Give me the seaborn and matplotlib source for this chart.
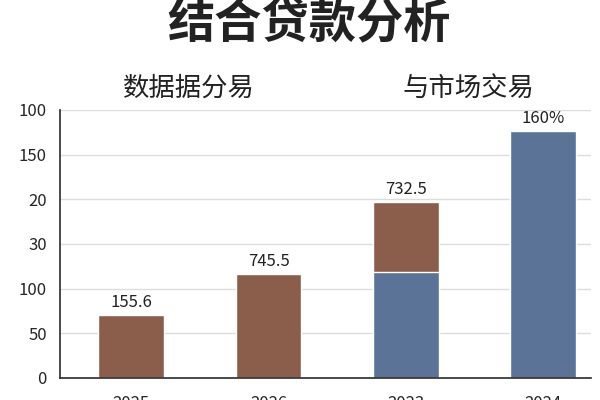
import matplotlib
matplotlib.use("Agg")
import matplotlib.pyplot as plt
import seaborn as sns
import pandas as pd

years = ["2025", "2026", "2023", "2024"]
blue_vals = [0, 0, 119, 276]
brown_vals = [70, 116, 78, 0]
bar_labels = ["155.6", "745.5", "732.5", "160%"]
ytick_labels = ["0", "50", "100", "30", "20", "150", "100"]

sns.set_theme(style="whitegrid")
plt.rcParams['font.family'] = ['Noto Sans CJK SC', 'DejaVu Sans']

fig = plt.figure(figsize=(6, 4), dpi=100)
ax = fig.add_axes([0.1, 0.055, 0.885, 0.67])

df = pd.DataFrame({"year": years, "blue": blue_vals, "brown": brown_vals})
df["total"] = df["blue"] + df["brown"]
sns.barplot(data=df, x="year", y="total", color="#8B5E4B", width=0.48, ax=ax, saturation=1)
sns.barplot(data=df, x="year", y="blue", color="#5B7396", width=0.48, ax=ax, saturation=1)

for i, (t, lab) in enumerate(zip(df["total"], bar_labels)):
    ax.text(i, t + 5, lab, ha="center", va="bottom", fontsize=12, color="#222222")

ax.set_ylim(0, 300)
ax.set_xlim(-0.52, 3.35)
ax.set_yticks(range(0, 301, 50))
ax.set_yticklabels(ytick_labels, fontsize=12)
ax.tick_params(axis="x", labelsize=12, pad=6)
ax.set_xlabel("")
ax.set_ylabel("")
ax.grid(axis="x", visible=False)
ax.grid(axis="y", color="#dddddd")
for s in ["top", "right"]:
    ax.spines[s].set_visible(False)
ax.spines["left"].set_color("#333333")
ax.spines["bottom"].set_color("#333333")

fig.text(0.515, 0.94, "结合贷款分析", ha="center", va="center", fontsize=34, fontweight="bold", color="#222222")
fig.text(0.315, 0.78, "数据据分易", ha="center", va="center", fontsize=19, color="#222222")
fig.text(0.78, 0.78, "与市场交易", ha="center", va="center", fontsize=19, color="#222222")

fig.savefig("out.png", dpi=100)
